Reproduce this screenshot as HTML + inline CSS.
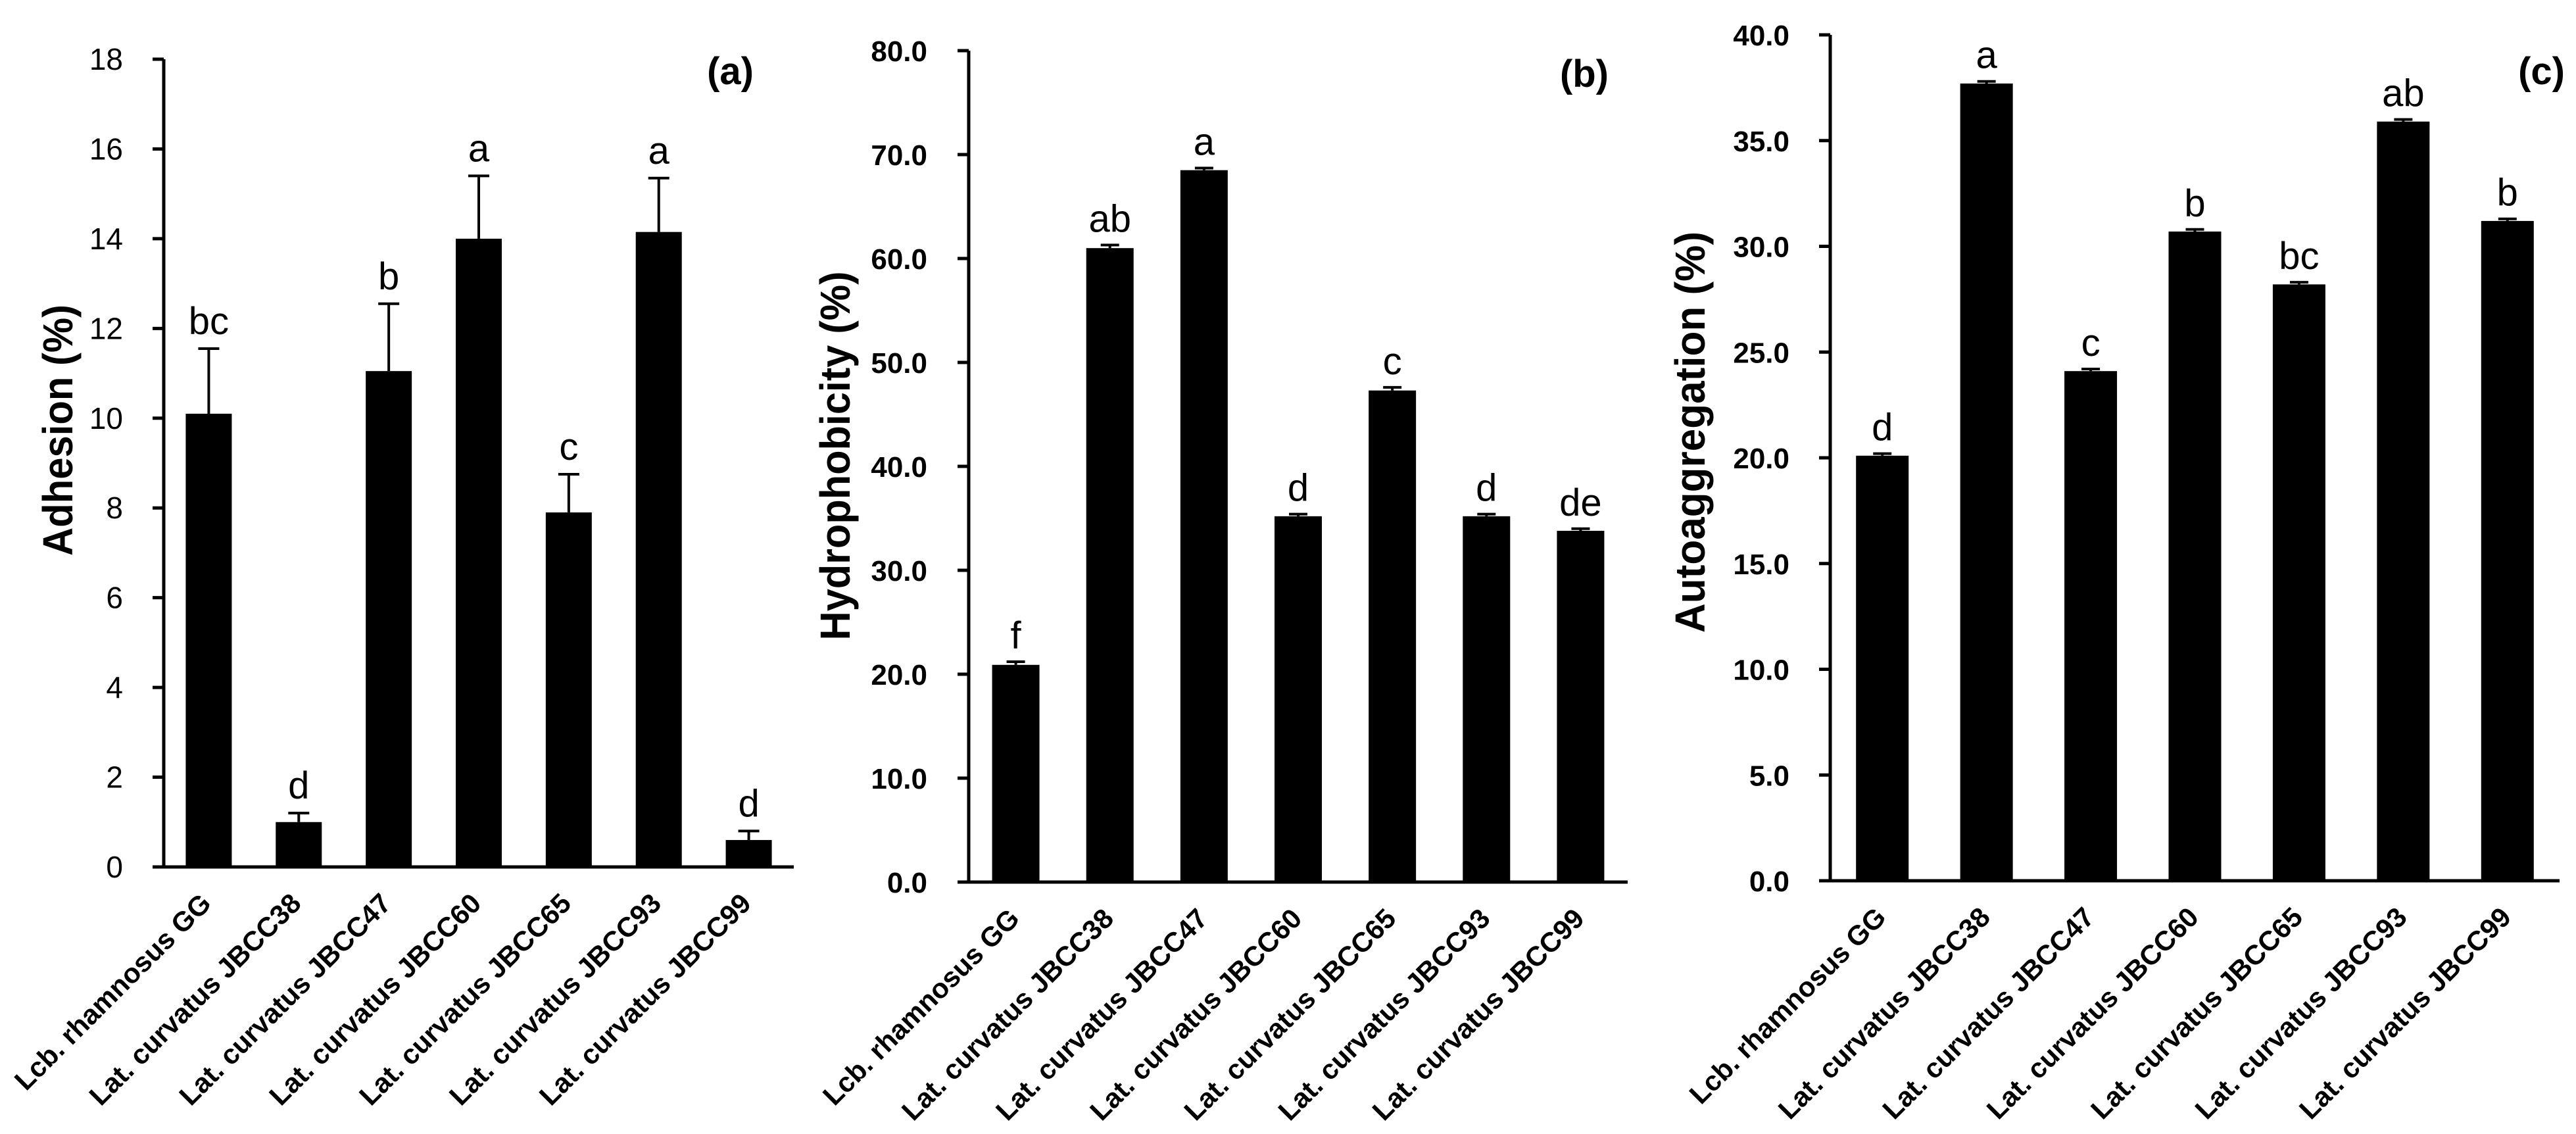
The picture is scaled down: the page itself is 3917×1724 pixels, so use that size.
<!DOCTYPE html>
<html><head><meta charset="utf-8"><style>
html,body{margin:0;padding:0;background:#fff;}
svg{display:block;}
text{font-family:"Liberation Sans",Arial,sans-serif;fill:#000;}
</style></head><body>
<svg id="fig" width="3917" height="1724" viewBox="0 0 3917 1724" xmlns="http://www.w3.org/2000/svg"></svg>
<script>
const categories = ["Lcb. rhamnosus GG","Lat. curvatus JBCC38","Lat. curvatus JBCC47","Lat. curvatus JBCC60","Lat. curvatus JBCC65","Lat. curvatus JBCC93","Lat. curvatus JBCC99"];
const adhesionValues = [10.1, 1.0, 11.05, 14.0, 7.9, 14.15, 0.6];
const adhesionErrors = [1.45, 0.2, 1.5, 1.4, 0.85, 1.2, 0.2];
const adhesionLetters = ["bc","d","b","a","c","a","d"];
const adhesionTicks = ["0","2","4","6","8","10","12","14","16","18"];
const hydroValues = [20.9, 61.0, 68.5, 35.2, 47.3, 35.2, 33.8];
const hydroErrors = [0.3, 0.3, 0.2, 0.2, 0.3, 0.2, 0.2];
const hydroLetters = ["f","ab","a","d","c","d","de"];
const hydroTicks = ["0.0","10.0","20.0","30.0","40.0","50.0","60.0","70.0","80.0"];
const autoValues = [20.1, 37.7, 24.1, 30.7, 28.2, 35.9, 31.2];
const autoErrors = [0.1, 0.1, 0.1, 0.1, 0.1, 0.1, 0.1];
const autoLetters = ["d","a","c","b","bc","ab","b"];
const autoTicks = ["0.0","5.0","10.0","15.0","20.0","25.0","30.0","35.0","40.0"];

const NS="http://www.w3.org/2000/svg";
const svg=document.getElementById('fig');
function mk(tag,attrs,parent){const e=document.createElementNS(NS,tag);for(const k in attrs)e.setAttribute(k,attrs[k]);(parent||svg).appendChild(e);return e;}

function panel(cfg){
  const g=mk('g',{});
  
  
  const n=categories.length;
  const step=(cfg.x1-cfg.x0)/n;
  const ymax=parseFloat(cfg.ticks[cfg.ticks.length-1]);
  const ys=v=>cfg.y0-(v/ymax)*(cfg.y0-cfg.yTop);
  const xs=i=>cfg.x0+step*(i+0.5);
  cfg.values.forEach((v,i)=>{
    const b=mk('rect',{x:xs(i)-cfg.bw/2,y:ys(v),width:cfg.bw,height:cfg.y0-ys(v),fill:'#000'},g);
    
    
    const e=cfg.errors[i], top=ys(v+e);
    const eb=mk('path',{d:`M${xs(i)} ${ys(v)} V${top} M${xs(i)-cfg.cap} ${top} H${xs(i)+cfg.cap}`,stroke:'#000','stroke-width':4,fill:'none'},g);
    
    
    const t=mk('text',{x:xs(i),y:top-cfg.letterGap,'text-anchor':'middle','font-size':58},g);
    t.textContent=cfg.letters[i];
    
    
    const c=mk('text',{x:0,y:0,'text-anchor':'end','font-size':42,'font-weight':'bold',transform:`translate(${xs(i)+cfg.lblDx},${cfg.y0+58}) rotate(-45)`},g);
    c.textContent=categories[i];
    
    
  });
  const ax=mk('path',{d:`M${cfg.x0} ${cfg.yTop} V${cfg.y0} H${cfg.x1}`,stroke:'#000','stroke-width':5,fill:'none'},g);
  
  
  cfg.ticks.forEach(tk=>{
    const y=ys(parseFloat(tk));
    const tm=mk('line',{x1:cfg.x0-17,x2:cfg.x0,y1:y,y2:y,stroke:'#000','stroke-width':5},g);
    
    
    const tl=mk('text',{x:cfg.x0-cfg.tickGap,y:y+16,'text-anchor':'end','font-size':cfg.tickSize,'font-weight':cfg.tickWeight},g);
    tl.textContent=tk;
    
    
  });
  const yt=mk('text',{x:0,y:0,'text-anchor':'middle','font-size':64,'font-weight':'bold',textLength:cfg.titleLen,lengthAdjust:'spacingAndGlyphs',transform:`translate(${cfg.titleX},${cfg.titleY}) rotate(-90)`},g);
  yt.textContent=cfg.title;
  
  
  const pl=mk('text',{x:cfg.plX,y:cfg.plY,'text-anchor':'end','font-size':58,'font-weight':'bold'},g);
  pl.textContent=cfg.label;
  
  
}

panel({name:'panel-a-adhesion',values:adhesionValues,errors:adhesionErrors,letters:adhesionLetters,ticks:adhesionTicks,
  x0:249,x1:1207,y0:1318,yTop:90,bw:70,cap:16,letterGap:22,lblDx:6,tickGap:62,tickSize:46,tickWeight:'normal',
  title:'Adhesion (%)',titleLen:382,titleX:110,titleY:654,label:'(a)',plX:1146,plY:128});
panel({name:'panel-b-hydrophobicity',values:hydroValues,errors:hydroErrors,letters:hydroLetters,ticks:hydroTicks,
  x0:1473,x1:2475,y0:1341,yTop:77,bw:72,cap:14,letterGap:20,lblDx:8,tickGap:63,tickSize:44,tickWeight:'bold',
  title:'Hydrophobicity (%)',titleLen:561,titleX:1292,titleY:693,label:'(b)',plX:2446,plY:132});
panel({name:'panel-c-autoaggregation',values:autoValues,errors:autoErrors,letters:autoLetters,ticks:autoTicks,
  x0:2783,x1:3892,y0:1339,yTop:53,bw:80,cap:14,letterGap:20,lblDx:8,tickGap:62,tickSize:44,tickWeight:'bold',
  title:'Autoaggregation (%)',titleLen:610,titleX:2592,titleY:657,label:'(c)',plX:3900,plY:128});
</script>
</body></html>
